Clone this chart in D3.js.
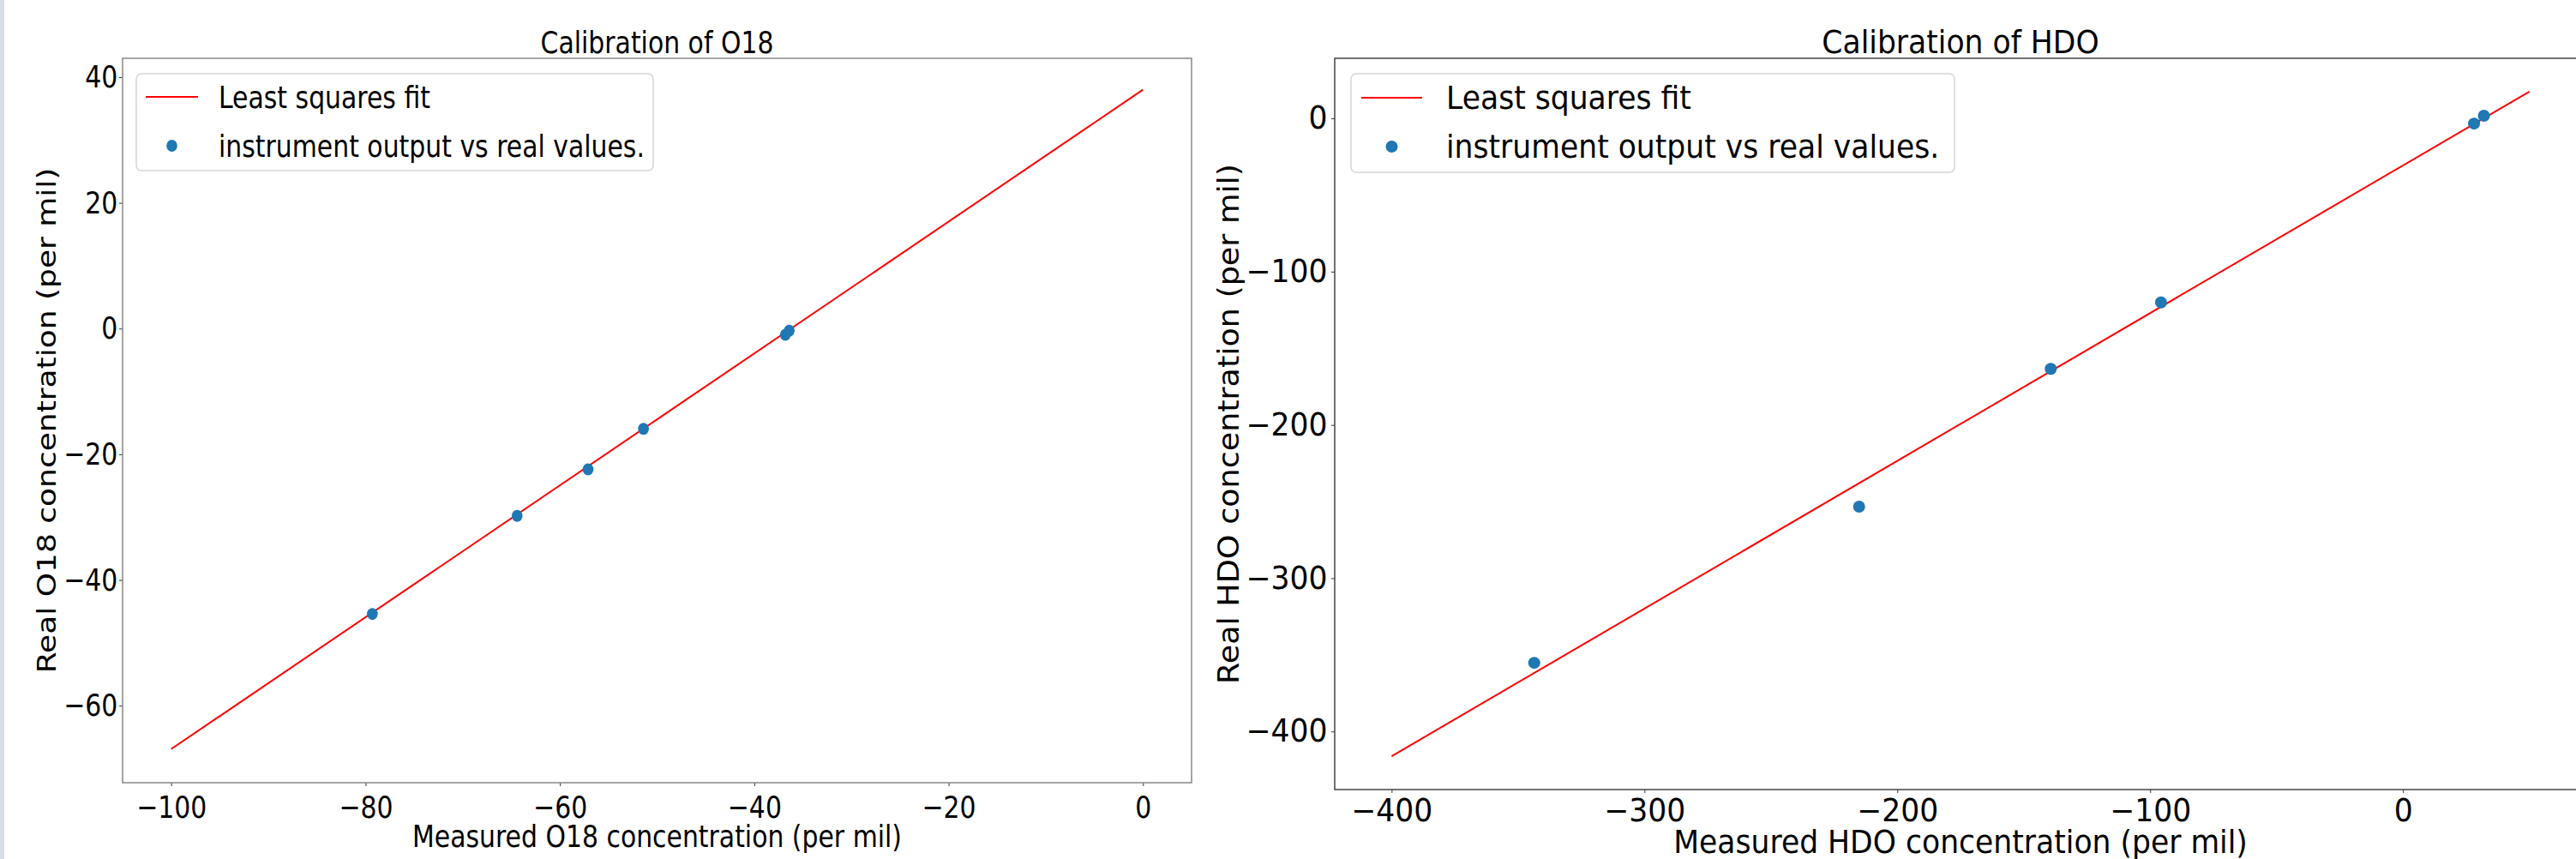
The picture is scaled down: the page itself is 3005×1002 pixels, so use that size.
<!DOCTYPE html>
<html>
<head>
<meta charset="utf-8">
<script src="https://cdn.jsdelivr.net/npm/d3@7"></script>
<style>
  body { margin: 0; background: #fff; }
  svg { display: block; }
  text { font-family: "DejaVu Sans", sans-serif; fill: #000; }
</style>
</head>
<body>
<div id="container"></div>
<script>
/* DATA */
const o18Measured = [-79.3, -64.4, -57.1, -51.4, -36.8, -36.4];
const o18Real = [-45.4, -29.8, -22.4, -15.95, -1.0, -0.33];
const o18FitX = [-100, 0];
const o18FitY = [-66.9, 38.0];
const o18XTicks = [-100, -80, -60, -40, -20, 0];
const o18YTicks = [-60, -40, -20, 0, 20, 40];

const hdoMeasured = [-343.6, -215.1, -139.3, -95.7, 28.1, 32.0];
const hdoReal = [-355.2, -253.3, -163.4, -120.1, -3.4, 1.7];
const hdoFitX = [-400, 50];
const hdoFitY = [-416.2, 17.5];
const hdoXTicks = [-400, -300, -200, -100, 0];
const hdoYTicks = [-400, -300, -200, -100, 0];

const legendLabels = ["Least squares fit", "instrument output vs real values."];

/* CONSTANTS AND GLOBALS */
const width = 3005, height = 1002;
const dotColor = "#1f77b4", fitColor = "#ff0000";
const dotR = 7;

const svg = d3.select("#container")
  .append("svg")
  .attr("width", width)
  .attr("height", height);

// thin strip on the left edge
svg.append("rect").attr("x", 0).attr("y", 0).attr("width", 5).attr("height", height).attr("fill", "#d5dce5");

const fmt = d => d < 0 ? "\u2212" + Math.abs(d) : String(d);

function drawPanel(p) {
  const x = d3.scaleLinear().domain(p.xDomain).range([p.left, p.right]);
  const y = d3.scaleLinear().domain(p.yDomain).range([p.bottom, p.top]);
  const sx = p.sx, fs = p.fontSize;
  const g = svg.append("g");

  // clip to the plotting area
  const clipId = "clip" + p.id;
  svg.append("clipPath").attr("id", clipId)
    .append("rect").attr("x", p.left).attr("y", p.top)
    .attr("width", p.right - p.left).attr("height", p.bottom - p.top);

  // x axis
  const xAxis = g.append("g")
    .attr("transform", `translate(0,${p.bottom})`)
    .call(d3.axisBottom(x).tickValues(p.xTicks).tickFormat(fmt)
      .tickSize(4).tickPadding(p.xPad).tickSizeOuter(0));
  xAxis.select(".domain").remove();
  xAxis.selectAll("line").attr("stroke", "#333");
  xAxis.selectAll("text")
    .attr("font-size", fs + "px").attr("font-family", "DejaVu Sans").attr("fill", "#000")
    .attr("transform", `scale(${sx},1)`);

  // y axis
  const yAxis = g.append("g")
    .attr("transform", `translate(${p.left},0)`)
    .call(d3.axisLeft(y).tickValues(p.yTicks).tickFormat(fmt)
      .tickSize(4).tickPadding(p.yPad).tickSizeOuter(0));
  yAxis.select(".domain").remove();
  yAxis.selectAll("line").attr("stroke", "#333");
  yAxis.selectAll("text")
    .attr("font-size", fs + "px").attr("font-family", "DejaVu Sans").attr("fill", "#000")
    .attr("transform", `scale(${sx},1)`);

  // frame
  g.append("rect")
    .attr("x", p.left).attr("y", p.top)
    .attr("width", p.right - p.left).attr("height", p.bottom - p.top)
    .attr("fill", "none").attr("stroke", p.frameColor).attr("stroke-width", 1.5);

  // fit line
  const fit = p.fitX.map((v, i) => [v, p.fitY[i]]);
  g.append("path")
    .datum(fit)
    .attr("clip-path", `url(#${clipId})`)
    .attr("d", d3.line().x(d => x(d[0])).y(d => y(d[1])))
    .attr("fill", "none").attr("stroke", fitColor).attr("stroke-width", 2);

  // points
  g.selectAll("ellipse.pt")
    .data(p.xs.map((v, i) => [v, p.ys[i]]))
    .enter()
    .append("ellipse")
    .attr("class", "pt")
    .attr("cx", d => x(d[0])).attr("cy", d => y(d[1]))
    .attr("rx", dotR * p.mx).attr("ry", dotR)
    .attr("fill", dotColor);

  // title and axis labels
  const label = (tx, ty, txt, rot) => g.append("text")
    .attr("transform", `translate(${tx},${ty}) scale(${sx},1)` + (rot ? " rotate(-90)" : ""))
    .attr("text-anchor", "middle")
    .attr("font-size", fs + "px")
    .text(txt);
  const cx = (p.left + p.right) / 2;
  label(cx, p.titleY, p.title);
  label(cx, p.xLabelY, p.xLabel);
  label(p.yLabelX, (p.top + p.bottom) / 2, p.yLabel, true);

  // legend
  const lg = g.append("g");
  lg.append("rect")
    .attr("x", p.legend.x).attr("y", p.legend.y)
    .attr("width", p.legend.w).attr("height", p.legend.h)
    .attr("rx", 6).attr("fill", "#fff").attr("fill-opacity", 0.8)
    .attr("stroke", "#d6d6d6").attr("stroke-width", 1.5);
  lg.append("line")
    .attr("x1", p.legend.lineX1).attr("x2", p.legend.lineX2)
    .attr("y1", p.legend.row1).attr("y2", p.legend.row1)
    .attr("stroke", fitColor).attr("stroke-width", 2);
  lg.append("ellipse")
    .attr("cx", (p.legend.lineX1 + p.legend.lineX2) / 2).attr("cy", p.legend.row2)
    .attr("rx", dotR * p.mx).attr("ry", dotR).attr("fill", dotColor);
  lg.selectAll("text.leg")
    .data(legendLabels)
    .enter()
    .append("text")
    .attr("class", "leg")
    .attr("transform", (d, i) => `translate(${p.legend.textX},${(i ? p.legend.row2 : p.legend.row1) + 0.36 * fs}) scale(${sx},1)`)
    .attr("font-size", fs + "px")
    .text(d => d);
}

drawPanel({
  id: "o18",
  left: 143, right: 1390, top: 68, bottom: 913,
  xDomain: [-105, 5], yDomain: [-72.25, 43.0],
  xTicks: o18XTicks, yTicks: o18YTicks,
  xs: o18Measured, ys: o18Real, fitX: o18FitX, fitY: o18FitY,
  sx: 0.83, mx: 0.9, fontSize: 36, xPad: 11, yPad: 3,
  frameColor: "#888",
  title: "Calibration of O18", titleY: 62,
  xLabelY: 988, xLabel: "Measured O18 concentration (per mil)",
  yLabel: "Real O18 concentration (per mil)", yLabelX: 65,
  legend: { x: 159, y: 86, w: 603, h: 113, lineX1: 170, lineX2: 231, row1: 113, row2: 170, textX: 255 }
});

drawPanel({
  id: "hdo",
  left: 1557, right: 3017, top: 68, bottom: 921,
  xDomain: [-422.5, 72.5], yDomain: [-437.9, 39.2],
  xTicks: hdoXTicks, yTicks: hdoYTicks,
  xs: hdoMeasured, ys: hdoReal, fitX: hdoFitX, fitY: hdoFitY,
  sx: 0.948, mx: 1, fontSize: 36.5, xPad: 7, yPad: 5,
  frameColor: "#444",
  title: "Calibration of HDO", titleY: 62,
  xLabelY: 995, xLabel: "Measured HDO concentration (per mil)",
  yLabel: "Real HDO concentration (per mil)", yLabelX: 1445,
  legend: { x: 1576, y: 86, w: 704, h: 115, lineX1: 1588, lineX2: 1659, row1: 114, row2: 171, textX: 1687 }
});
</script>
</body>
</html>
